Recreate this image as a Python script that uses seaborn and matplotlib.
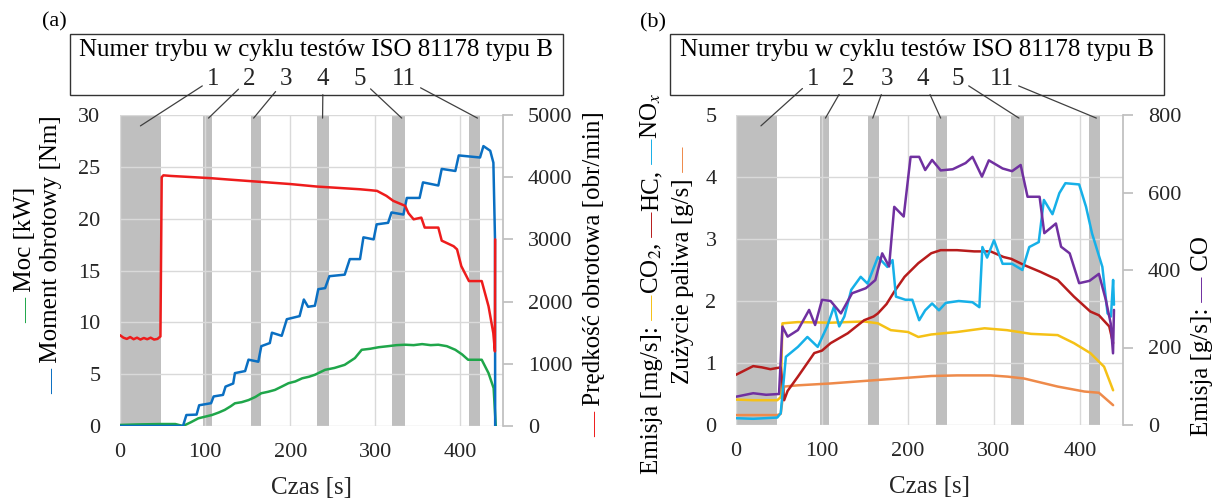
import matplotlib
matplotlib.use("Agg")
import matplotlib.pyplot as plt
import seaborn as sns
from matplotlib.patches import Rectangle

sns.set_theme(style="white")
plt.rcParams["font.family"] = ["Liberation Serif", "DejaVu Serif"]
plt.rcParams["mathtext.fontset"] = "stix"

# ---------------- data: panel (a) ----------------
t_moc = [0, 20, 48, 65, 74, 83, 92, 100, 108, 116, 123, 130, 135, 143, 151, 159, 166, 174,
         182, 190, 198, 206, 214, 222, 229, 241, 252, 264, 276, 284, 294, 304, 315, 325,
         335, 345, 355, 365, 374, 384, 394, 402, 409, 418, 425, 433, 439, 441.5]
moc = [0.10, 0.15, 0.19, 0.19, 0.0, 0.35, 0.74, 0.9, 1.06, 1.3, 1.55, 1.9, 2.19, 2.3, 2.5,
       2.8, 3.16, 3.3, 3.48, 3.8, 4.13, 4.3, 4.6, 4.75, 4.94, 5.42, 5.6, 5.9, 6.55, 7.35,
       7.45, 7.6, 7.7, 7.8, 7.84, 7.8, 7.9, 7.8, 7.84, 7.7, 7.35, 6.9, 6.39, 6.39, 6.39,
       5.1, 3.65, 0.0]

t_moment = [0, 48, 74, 78, 90, 93, 107, 110, 121, 124, 133, 135, 147, 151, 162.5, 166, 176,
            178.5, 190, 196, 211, 216, 221, 229, 233, 241, 246, 264, 270, 282, 286, 298,
            301.5, 315, 319, 333, 337, 352, 356, 374, 378, 394, 398, 423, 427, 435, 438.7,
            440.6, 440.8]
moment = [0, 0, 0, 1.06, 1.1, 2.0, 2.2, 2.85, 3.0, 3.8, 4.1, 5.1, 5.3, 6.4, 6.2, 7.7, 8.0,
          9.0, 8.7, 10.3, 10.6, 12.2, 11.5, 11.6, 13.2, 13.3, 14.45, 14.6, 16.1, 16.1, 18.2,
          18.0, 19.45, 19.6, 20.6, 20.4, 22.0, 22.0, 23.5, 23.2, 24.8, 24.6, 26.1, 25.9,
          27.0, 26.55, 25.4, 18.0, 0.0]

t_rpm = [0, 4, 8, 12, 16, 20, 24, 28, 32, 36, 40, 44, 47.5, 49, 51, 60, 80, 106, 130, 165,
         200, 231, 260, 282, 295, 302, 313, 321, 335, 339, 345, 354, 358, 374, 378, 392,
         396, 401, 410, 425, 433, 438.6, 440.5, 440.8]
rpm = [1460, 1420, 1400, 1430, 1395, 1420, 1390, 1415, 1395, 1420, 1390, 1400, 1440, 4000,
       4030, 4020, 4005, 3985, 3960, 3925, 3890, 3850, 3825, 3806, 3790, 3780, 3700, 3620,
       3540, 3420, 3323, 3350, 3190, 3190, 2980, 2890, 2840, 2570, 2330, 2330, 1925, 1495,
       1199, 3000]

# ---------------- data: panel (b) ----------------
t_hc = [0, 10, 20, 30, 40, 48, 52, 56, 60, 72, 91, 100, 110, 130, 149, 160, 165, 175, 184,
        196, 212, 227, 238, 257, 277, 296, 311, 320, 335, 354, 374, 393, 412, 422, 434, 438.5]
hc = [0.81, 0.88, 0.95, 0.93, 0.90, 0.92, 0.93, 0.40, 0.55, 0.78, 1.16, 1.20, 1.32, 1.48,
      1.69, 1.75, 1.80, 1.95, 2.15, 2.39, 2.61, 2.77, 2.82, 2.82, 2.80, 2.80, 2.71, 2.68,
      2.58, 2.47, 2.34, 2.07, 1.83, 1.77, 1.59, 1.32]

t_co2 = [0, 20, 48, 52, 54, 72, 110, 130, 149, 165, 180, 200, 212, 227, 257, 289, 315, 343,
         374, 393, 412, 428, 438.5]
co2 = [0.41, 0.40, 0.40, 0.45, 1.64, 1.66, 1.65, 1.66, 1.67, 1.64, 1.53, 1.50, 1.42, 1.46,
       1.50, 1.56, 1.53, 1.47, 1.45, 1.32, 1.16, 0.94, 0.56]

t_fuel = [0, 48, 52, 56, 72, 110, 149, 188, 227, 257, 296, 316, 335, 374, 405, 422, 438.5]
fuel = [0.16, 0.16, 0.18, 0.62, 0.64, 0.67, 0.71, 0.75, 0.79, 0.80, 0.80, 0.78, 0.75, 0.62,
        0.54, 0.52, 0.32]

t_nox = [0, 20, 48, 52, 58, 72, 83, 95, 106, 114, 120, 126, 134, 145, 153, 165, 176, 182,
         186, 197, 205, 213, 220, 228, 236, 244, 259, 275, 283, 286.5, 292, 300, 310, 321,
         333, 341, 352, 358, 368, 376, 383, 399, 407, 414, 426, 432, 436, 438.5, 439.5]
nox = [0.11, 0.10, 0.12, 0.19, 1.10, 1.26, 1.42, 1.26, 1.59, 1.91, 1.59, 1.75, 2.18, 2.39,
       2.28, 2.71, 2.55, 2.66, 2.07, 2.02, 2.02, 1.69, 1.85, 1.96, 1.85, 1.97, 2.00, 1.98,
       1.90, 2.87, 2.70, 2.98, 2.60, 2.60, 2.50, 2.87, 2.95, 3.63, 3.40, 3.74, 3.90, 3.88,
       3.52, 3.09, 2.55, 1.80, 1.75, 2.34, 1.94]

t_co = [0, 20, 35, 50, 54, 60, 72, 85, 92, 100, 110, 122, 135, 151, 162, 170, 178, 184, 195,
        203, 213, 220, 228, 238, 252, 267, 275, 286, 294, 310, 321, 331, 339, 353, 358.5,
        372, 378, 388, 399, 411, 422, 430, 435.7, 438.4, 439.5]
co = [73, 82, 78, 80, 254, 228, 245, 297, 258, 323, 320, 288, 340, 353, 374, 443, 409, 563,
      538, 692, 692, 658, 684, 657, 660, 676, 692, 641, 683, 662, 655, 671, 589, 589, 495,
      520, 460, 443, 366, 372, 390, 323, 262, 185, 297]

# test modes (grey bands) and their labels
mode_bands = [(0, 48), (98, 108), (154, 166), (232, 245), (320, 335), (410, 423)]
mode_labels = ["1", "2", "3", "4", "5", "11"]
mode_targets_a = [24, 104, 157, 238, 331, 420]
mode_targets_b = [29, 104, 159, 238, 329, 419]
header_title = "Numer trybu w cyklu testów ISO 81178 typu B"
x_ticks = [0, 100, 200, 300, 400]
yA_ticks = [0, 5, 10, 15, 20, 25, 30]
yA2_ticks = [0, 1000, 2000, 3000, 4000, 5000]
yB_ticks = [0, 1, 2, 3, 4, 5]
yB2_ticks = [0, 200, 400, 600, 800]

C = dict(green="#1fa64a", blue="#0a6fc2", red="#ee1c1c", darkred="#b71c1c",
         yellow="#f5c116", orange="#ee8a4a", cyan="#16b0e8", purple="#7030a0",
         band="#bfbfbf", grid="#d9d9d9", text="#262626")
FS = 16      # tick labels
FL = 18      # labels / header
LW = 1.8

W, H = 1214, 498
fig = plt.figure(figsize=(W / 100, H / 100), dpi=100)
axA = fig.add_axes([120 / W, 1 - 426 / H, 383 / W, 311 / H])
axB = fig.add_axes([736 / W, 1 - 425 / H, 387 / W, 310 / H])
axA2 = axA.twinx()
axB2 = axB.twinx()


def line(ax, x, y, color):
    sns.lineplot(x=x, y=y, ax=ax, color=color, lw=LW, estimator=None, sort=False)


line(axA, t_moc, moc, C["green"])
line(axA, t_moment, moment, C["blue"])
line(axA2, t_rpm, rpm, C["red"])

line(axB, t_fuel, fuel, C["orange"])
line(axB, t_co2, co2, C["yellow"])
line(axB, t_hc, hc, C["darkred"])
line(axB2, t_co, co, C["purple"])
line(axB, t_nox, nox, C["cyan"])


def style(ax, ax2, yticks, y2ticks):
    ax.set_xlim(0, 450)
    ax.set_ylim(yticks[0], yticks[-1])
    ax.set_yticks(yticks)
    ax.set_xticks(x_ticks)
    ax.grid(True, color=C["grid"], lw=1)
    ax.set_axisbelow(True)
    for s in ax.spines.values():
        s.set_visible(False)
    ax.tick_params(axis="both", length=0, labelsize=FS, labelcolor=C["text"])
    ax.tick_params(axis="y", pad=14)
    ax.tick_params(axis="x", pad=12)
    ax.set_ylabel("")
    ax.set_xlabel("Czas [s]", fontsize=FL, labelpad=11)
    for a, b in mode_bands:
        ax.axvspan(a, b, color=C["band"], lw=0, zorder=0.2)
    ax2.set_xlim(0, 450)
    ax2.set_ylim(y2ticks[0], y2ticks[-1])
    ax2.set_yticks(y2ticks)
    ax2.grid(False)
    for k, s in ax2.spines.items():
        s.set_visible(k == "right")
    ax2.spines["right"].set_color(C["band"])
    ax2.tick_params(axis="y", length=7, color=C["band"], pad=11, labelsize=FS,
                    labelcolor=C["text"])
    ax2.set_ylabel("")


style(axA, axA2, yA_ticks, yA2_ticks)
style(axB, axB2, yB_ticks, yB2_ticks)


def header(ax, box, title_xy, nums_x, nums_y, targets, panel_lbl, lbl_xy):
    x0, y0, x1, y1 = box
    fig.add_artist(Rectangle((x0 / W, 1 - y1 / H), (x1 - x0) / W, (y1 - y0) / H,
                             transform=fig.transFigure, fill=False, ec="#333333", lw=1))
    fig.text(title_xy[0] / W, 1 - title_xy[1] / H, header_title, ha="center", va="center",
             fontsize=FL, color="black")
    fig.text(lbl_xy[0] / W, 1 - lbl_xy[1] / H, panel_lbl, ha="center", va="center",
             fontsize=FS, color="black")
    for lbl, nx, tx in zip(mode_labels, nums_x, targets):
        yf = 0.965 if lbl == "1" else 0.99
        ax.annotate(lbl, xy=(tx, yf), xycoords=ax.get_xaxis_transform(),
                    xytext=(nx / W, 1 - nums_y / H), textcoords="figure fraction",
                    ha="center", va="center", fontsize=FL, annotation_clip=False,
                    arrowprops=dict(arrowstyle="-", color="#404040", lw=0.9,
                                    shrinkA=1, shrinkB=0))


header(axA, (70, 34, 563, 95), (316, 50), [213, 249, 286, 323, 360, 404], 79,
       mode_targets_a, "(a)", (54, 22))
header(axB, (670, 34, 1164, 95), (917, 50), [813, 848, 887, 923, 958, 1002], 79,
       mode_targets_b, "(b)", (653, 23))

renderer = fig.canvas.get_renderer()


def stacked_label(bx, cy, pieces):
    texts, lens = [], []
    for s, c in pieces:
        t = fig.text(0, 0, s, rotation=90, rotation_mode="anchor", ha="left",
                     va="baseline", color=c, fontsize=FL)
        texts.append(t)
        lens.append(t.get_window_extent(renderer=renderer).height)
    y = (H - cy) - sum(lens) / 2
    for t, L in zip(texts, lens):
        t.set_position((bx / W, y / H))
        y += L


stacked_label(31, 255, [("—", C["green"]), (" Moc [kW]", "black")])
stacked_label(57, 255, [("—", C["blue"]), (" Moment obrotowy [Nm]", "black")])
stacked_label(600, 274, [("—", C["red"]), (" Prędkość obrotowa [obr/min]", "black")])
stacked_label(658, 283, [("Emisja [mg/s]:", "black"), (" —", C["yellow"]),
                         ("CO$_2$,", "black"), (" —", C["darkred"]), ("HC,", "black"),
                         (" —", C["cyan"]), ("NO$_x$", "black")])
stacked_label(689, 265, [("Zużycie paliwa [g/s]", "black"), (" —", C["orange"])])
stacked_label(1208, 336, [("Emisja [g/s]:", "black"), (" —", C["purple"]), (" CO", "black")])

fig.savefig("out.png", dpi=100)
